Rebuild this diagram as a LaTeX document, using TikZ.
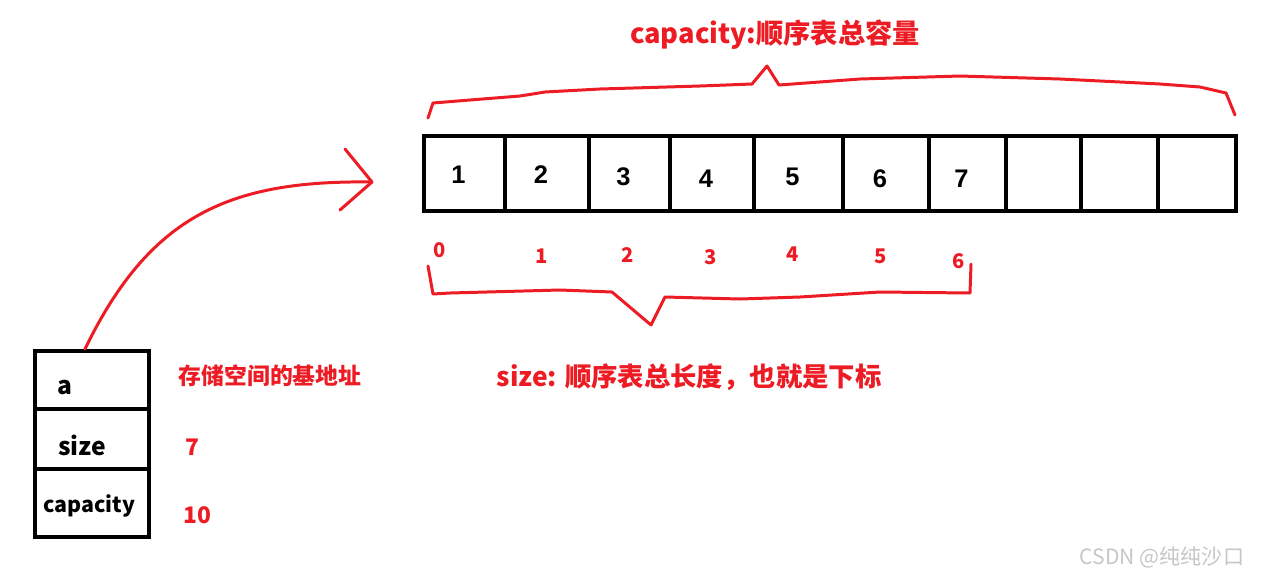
\documentclass[tikz,border=0pt]{standalone}
\usepackage{fontspec}
\setmainfont{Noto Sans CJK SC}
\newfontfamily\digitfont{Liberation Sans}
\usepackage{tikz}
\usetikzlibrary{calc}

\definecolor{paintred}{RGB}{237,28,36}

\tikzset{
  cellbox/.style={draw=black, line width=2.3pt},
  cellnum/.style={font=\digitfont\bfseries\fontsize{14.5}{14.5}\selectfont, text=black},
  idx/.style={font=\bfseries\fontsize{11.5}{11.5}\selectfont, text=paintred},
  field/.style={font=\bfseries\fontsize{14}{14}\selectfont, text=black},
  note/.style={font=\bfseries\fontsize{13}{13}\selectfont, text=paintred},
  inkline/.style={draw=paintred, line width=1.7pt, line join=round, line cap=round}
}

\begin{document}
\begin{tikzpicture}[x=0.02cm, y=-0.02cm]
  \useasboundingbox[fill=white] (0,0) rectangle (1264,579);
  % array cells: left/right/value/y of number
  \foreach \l/\r/\v/\y [count=\i] in {424/505/1/175, 505/589/2/175, 589/670/3/177,
      670/754/4/179, 754/843/5/177, 843/929/6/179, 929/1006/7/179,
      1006/1081//176, 1081/1158//176, 1158/1236//176} {
    \draw[cellbox] (\l,136) rectangle (\r,211);
    \node[cellnum] (c\i) at ({(\l+\r)/2-6}, \y) {\v};
  }
  % indices under the cells
  \foreach \v/\x/\y in {0/440/250, 1/542/256, 2/628/255, 3/711/257,
      4/793/254, 5/881/256, 6/959/261}
    \node[idx] (i\v) at (\x,\y) {\v};
  % capacity brace over the whole array
  \draw[inkline] (428,118) -- (433,103) -- (470,100) -- (520,96) -- (545,92)
    -- (600,89) -- (700,86) -- (752,84) -- (767,66) -- (779,85) -- (860,79)
    -- (960,76) -- (1060,79) -- (1160,84) -- (1200,87) -- (1226,93) -- (1235,115);
  \node[font=\bfseries\fontsize{15.5}{15.5}\selectfont, text=paintred] (captitle) at (775,35)
    {capacity:顺序表总容量};
  % size brace under the used indices
  \draw[inkline] (428,266) -- (433,294) -- (450,293) -- (560,290) -- (612,292)
    -- (651,325) -- (665,297) -- (740,299) -- (800,297) -- (880,292)
    -- (970,293) -- (971,264);
  \node[font=\bfseries\fontsize{15}{15}\selectfont, text=paintred] (sizetitle) at (689,377)
    {size: 顺序表总长度，也就是下标};
  % struct box
  \draw[cellbox] (35,351) rectangle (149,537);
  \draw[cellbox] (35,409) -- (149,409);
  \draw[cellbox] (35,469) -- (149,469);
  \node[field] (fa) at (65,387) {a};
  \node[field] (fsize) at (82,445) {size};
  \node[field, font=\bfseries\fontsize{12.2}{12.2}\selectfont] (fcap) at (89,506) {capacity};
  \node[note] (na) at (270,376) {存储空间的基地址};
  \node[note] (nsize) at (192,447) {7};
  \node[note] (ncap) at (197,515) {10};
  % pointer from a to the array
  \coordinate (tip) at (372,182);
  \draw[inkline] (85,349) .. controls (150,215) and (230,180) .. (tip);
  \draw[inkline] (345,149) -- (tip) -- (340,210);
  % watermark
  \node[font=\fontsize{12}{12}\selectfont, text=black!22] (wm) at (1162,557) {CSDN @纯纯沙口};
\end{tikzpicture}
\end{document}
